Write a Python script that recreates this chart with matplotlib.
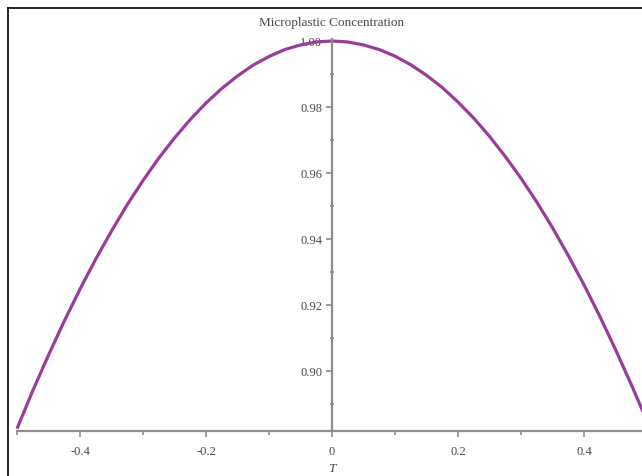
import matplotlib.pyplot as plt
from matplotlib.lines import Line2D
from matplotlib.ticker import MultipleLocator

# concentration profile against T
T = [-0.5, -0.475, -0.45, -0.425, -0.4, -0.375, -0.35, -0.325, -0.3, -0.275,
     -0.25, -0.225, -0.2, -0.175, -0.15, -0.125, -0.1, -0.075, -0.05, -0.025,
     0.0, 0.025, 0.05, 0.075, 0.1, 0.125, 0.15, 0.175, 0.2, 0.225,
     0.25, 0.275, 0.3, 0.325, 0.35, 0.375, 0.4, 0.425, 0.45, 0.475, 0.5]
conc = [0.8825, 0.8940, 0.9048, 0.9151, 0.9248, 0.9339, 0.9424, 0.9504, 0.9577, 0.9645,
        0.9706, 0.9762, 0.9812, 0.9856, 0.9894, 0.9927, 0.9953, 0.9974, 0.9988, 0.9997,
        1.0000, 0.9997, 0.9988, 0.9974, 0.9954, 0.9928, 0.9896, 0.9859, 0.9815, 0.9766,
        0.9711, 0.9650, 0.9584, 0.9512, 0.9434, 0.9350, 0.9261, 0.9166, 0.9065, 0.8959,
        0.8848]

xticks = [-0.4, -0.2, 0, 0.2, 0.4]
xlabels = ['-0.4', '-0.2', '0', '0.2', '0.4']
yticks = [0.90, 0.92, 0.94, 0.96, 0.98, 1.00]
ylabels = ['0.90', '0.92', '0.94', '0.96', '0.98', '1.00']

W, H = 642, 477
fig = plt.figure(figsize=(W / 100, H / 100), dpi=100)
fig.patch.set_facecolor('white')

# axes placed in pixel units
left, right, top, bottom = 17, 647, 40, 432
ax = fig.add_axes([left / W, (H - bottom) / H, (right - left) / W, (bottom - top) / H])
ax.set_xlim(-0.5, 0.5)
ax.set_ylim(0.8818, 1.0006)

ax.plot(T, conc, color='#9a3c9a', lw=2.3, solid_capstyle='butt', clip_on=False)

axis_col = '#8e8e8e'
txt_col = '#4a4a4a'
serif = 'Liberation Serif'
for s in ['top', 'right']:
    ax.spines[s].set_visible(False)
ax.spines['left'].set_position(('data', 0))
for s in ['left', 'bottom']:
    ax.spines[s].set_color(axis_col)
    ax.spines[s].set_linewidth(1.6)

ax.xaxis.set_minor_locator(MultipleLocator(0.1))
ax.yaxis.set_minor_locator(MultipleLocator(0.01))
ax.set_xticks(xticks)
ax.set_xticklabels(xlabels, family=serif)
ax.set_yticks(yticks)
ax.set_yticklabels(ylabels, family=serif)

ax.tick_params(which='major', direction='out', length=4, width=1.2, color=axis_col,
               labelsize=9, labelcolor=txt_col)
ax.tick_params(axis='x', which='major', pad=6)
ax.tick_params(axis='y', which='major', pad=3)
ax.tick_params(axis='x', which='minor', direction='out', length=3, width=1.2, color=axis_col)
ax.tick_params(axis='y', which='minor', direction='inout', length=3, width=1.2, color=axis_col)

ax.set_xlabel('T', family=serif, style='italic', fontsize=9.5,
              color=txt_col, labelpad=4)
fig.text(332 / W, 1 - 23 / H, 'Microplastic Concentration', ha='center', va='center',
         family=serif, fontsize=9.5, color=txt_col)

# outer frame lines
fig.add_artist(Line2D([8 / W, 8 / W], [0, 1 - 9 / H], color='black', lw=1.2))
fig.add_artist(Line2D([8 / W, 1], [1 - 9 / H, 1 - 9 / H], color='black', lw=1.2))

fig.savefig('out.png', dpi=100)
